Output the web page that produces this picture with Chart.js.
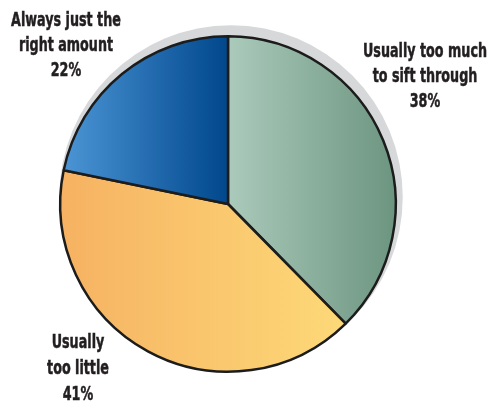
<!DOCTYPE html>
<html>
<head>
<meta charset="utf-8">
<script src="https://cdn.jsdelivr.net/npm/chart.js@4/dist/chart.umd.min.js"></script>
<style>
  html, body { margin: 0; padding: 0; background: #fff; }
  #wrap { width: 487px; height: 402px; }
</style>
</head>
<body>
<div id="wrap"><canvas id="pie"></canvas></div>
<script>
// survey answers, clockwise from 12 o'clock
const answers = [
  ["Usually too much", "to sift through"],
  ["Usually", "too little"],
  ["Always just the", "right amount"]
];
const shares = [38, 41, 22];

// left -> right colour of each slice
const sliceColors = [
  ["#abcabb", "#6c9580"],
  ["#f6b262", "#fdd978"],
  ["#4b95d5", "#00478c"]
];

// where each label block sits (centre x, first line y), line height
const labelPos = [
  [425, 52],
  [78, 343],
  [66, 21]
];
const lineH = [25, 26, 25];

const BORDER = 2.5;

// slice geometry the same way the doughnut controller lays it out
function sliceGeom(chart, i) {
  const a = chart.chartArea;
  const cx = (a.left + a.right) / 2, cy = (a.top + a.bottom) / 2;
  const r = Math.min(a.width - BORDER, a.height - BORDER) / 2;
  const total = shares.reduce((s, v) => s + v, 0);
  let before = 0;
  for (let k = 0; k < i; k++) before += shares[k];
  const start = -Math.PI / 2 + 2 * Math.PI * before / total;
  const end = start + 2 * Math.PI * shares[i] / total;
  return { cx, cy, r, start, end };
}

function sliceFill(ctx) {
  const chart = ctx.chart;
  if (!chart.chartArea) return sliceColors[ctx.dataIndex][0];
  const g = sliceGeom(chart, ctx.dataIndex);
  let minX = g.cx, maxX = g.cx;
  for (let t = 0; t <= 60; t++) {
    const ang = g.start + (g.end - g.start) * t / 60;
    const x = g.cx + g.r * Math.cos(ang);
    minX = Math.min(minX, x);
    maxX = Math.max(maxX, x);
  }
  const grad = chart.ctx.createLinearGradient(minX, 0, maxX, 0);
  grad.addColorStop(0, sliceColors[ctx.dataIndex][0]);
  grad.addColorStop(1, sliceColors[ctx.dataIndex][1]);
  return grad;
}

// grey disc peeking out behind the pie at top right
const backDisc = {
  id: 'backDisc',
  beforeDatasetsDraw(chart) {
    const arc = chart.getDatasetMeta(0).data[0];
    if (!arc) return;
    const c = chart.ctx;
    c.save();
    c.fillStyle = '#d7d8da';
    c.beginPath();
    c.arc(arc.x + 3, arc.y - 7, arc.outerRadius + 4, 0, Math.PI * 2);
    c.fill();
    c.restore();
  }
};

const sliceLabels = {
  id: 'sliceLabels',
  afterDatasetsDraw(chart) {
    const c = chart.ctx;
    c.save();
    c.fillStyle = '#231f20';
    c.strokeStyle = '#231f20';
    c.lineWidth = 0.5;
    c.font = 'bold 20px "DejaVu Sans Condensed", "DejaVu Sans", sans-serif';
    c.textAlign = 'center';
    c.textBaseline = 'middle';
    // squeeze the type so "Usually too much" runs ~124px
    const sx = 124 / c.measureText('Usually too much').width;
    answers.forEach((lines, i) => {
      const all = lines.concat([shares[i] + '%']);
      const [x, y] = labelPos[i];
      all.forEach((txt, j) => {
        c.save();
        c.translate(x, y + j * lineH[i]);
        c.scale(sx, 1);
        c.fillText(txt, 0, 0);
        c.strokeText(txt, 0, 0);
        c.restore();
      });
    });
    c.restore();
  }
};

new Chart(document.getElementById('pie'), {
  type: 'pie',
  data: {
    labels: answers.map(l => l.join(' ')),
    datasets: [{
      data: shares,
      backgroundColor: sliceFill,
      borderColor: '#1c1c1c',
      borderWidth: BORDER,
      borderAlign: 'center'
    }]
  },
  options: {
    responsive: true,
    maintainAspectRatio: false,
    animation: false,
    layout: { padding: { left: 59, right: 90, top: 35, bottom: 29 } },
    plugins: {
      legend: { display: false },
      tooltip: { enabled: false }
    }
  },
  plugins: [backDisc, sliceLabels]
});
</script>
</body>
</html>
